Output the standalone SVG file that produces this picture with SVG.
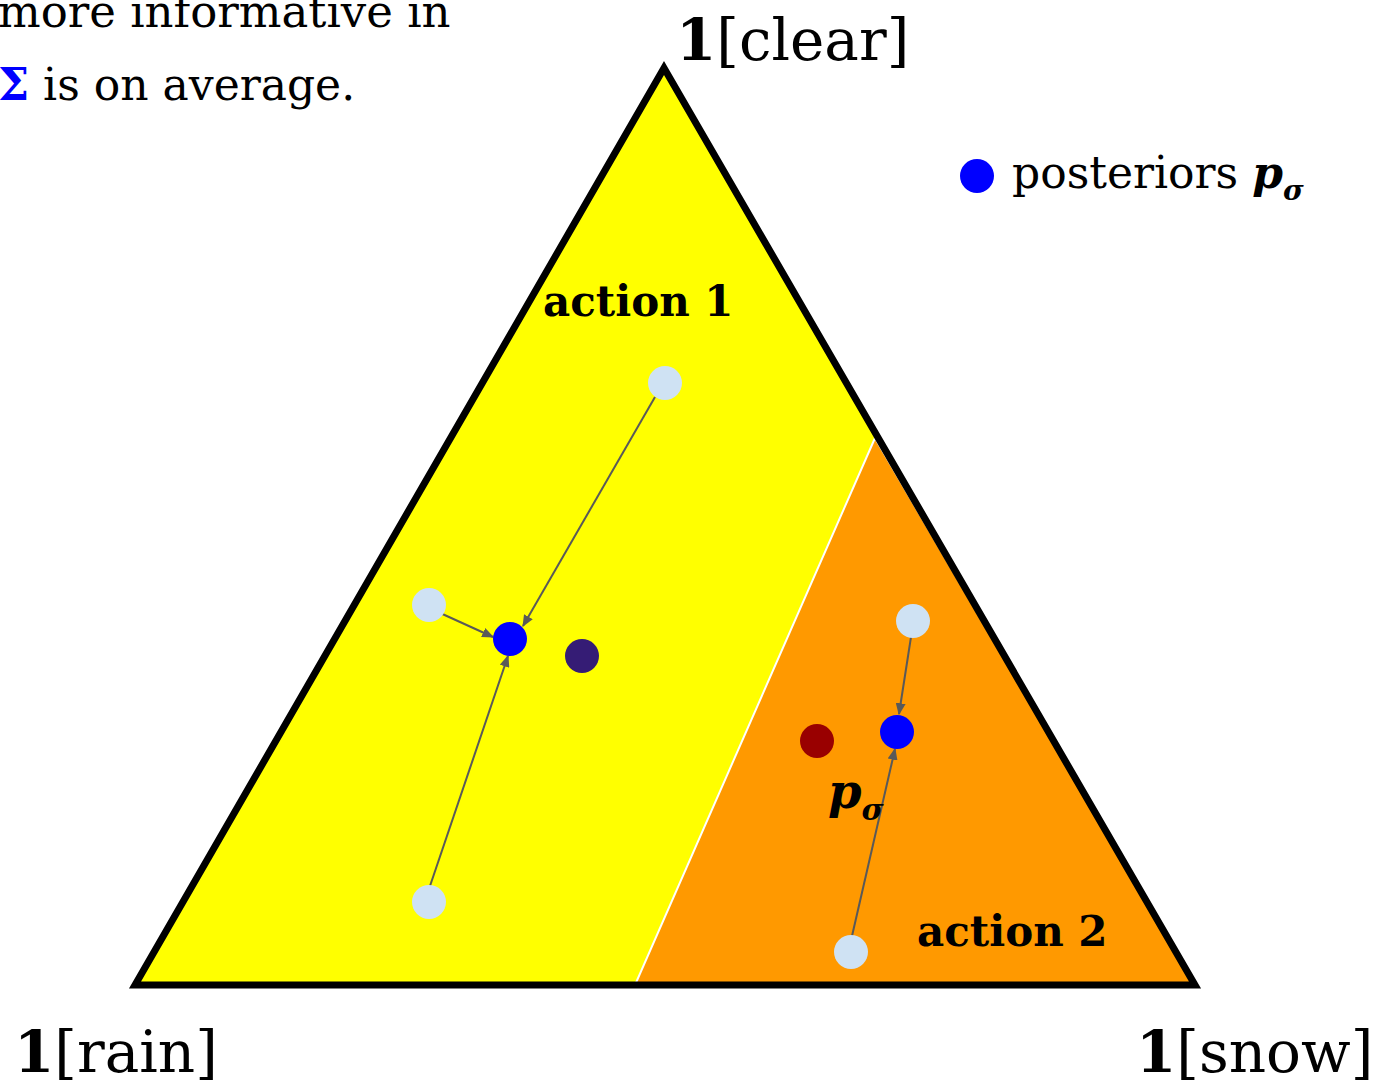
<svg xmlns="http://www.w3.org/2000/svg" width="1384" height="1083" viewBox="0 0 1384 1083">
<defs>
<style>
text{font-family:"DejaVu Serif","Liberation Serif",serif;fill:#000}
.lbl{font-size:58px}
.act{font-size:42px;font-weight:bold}
.light{fill:#cfe2f3}
.blue{fill:#0000ff}
.arr{stroke:#595959;stroke-width:2;fill:none;marker-end:url(#ah)}
</style>
<marker id="ah" viewBox="0 0 10 10" refX="9" refY="5" markerWidth="12" markerHeight="10" orient="auto" markerUnits="userSpaceOnUse" preserveAspectRatio="none">
<path d="M0,0 L10,5 L0,10 z" fill="#595959"/>
</marker>
</defs>
<rect width="1384" height="1083" fill="#fff"/>
<g id="caption">
<text x="-2" y="27" font-size="45">more informative in</text>
<text x="-2" y="100" font-size="44"><tspan fill="#0000ff" font-weight="bold">Σ</tspan> is on average.</text>
</g>
<g id="simplex">
<polygon points="664,68 135,985 1195,985" fill="#ffff00"/>
<polygon points="875,438 635,985 1195,985" fill="#ff9900" stroke="#fff" stroke-width="2"/>
<polygon points="664,68 135,985 1195,985" fill="none" stroke="#000" stroke-width="7" stroke-linejoin="miter"/>
</g>
<g id="label-clear"><text class="lbl" x="676" y="60"><tspan font-weight="bold">1</tspan>[clear]</text></g>
<g id="label-rain"><text class="lbl" x="14" y="1072"><tspan font-weight="bold">1</tspan>[rain]</text></g>
<g id="label-snow"><text class="lbl" x="1136" y="1072"><tspan font-weight="bold">1</tspan>[snow]</text></g>
<g id="action1"><text class="act" x="543" y="316">action 1</text></g>
<g id="action2"><text class="act" x="917" y="946">action 2</text></g>
<g id="legend">
<circle class="blue" cx="977" cy="176" r="17"/>
<text x="1012" y="188" font-size="44">posteriors <tspan font-weight="bold" font-style="italic">p</tspan><tspan font-weight="bold" font-style="italic" font-size="28" dy="12">σ</tspan></text>
</g>
<g id="connectors">
<line class="arr" x1="655" y1="397" x2="523" y2="626"/>
<line class="arr" x1="438" y1="612" x2="493" y2="637"/>
<line class="arr" x1="430" y1="886" x2="508" y2="656"/>
<line class="arr" x1="911" y1="637" x2="899" y2="714"/>
<line class="arr" x1="852" y1="936" x2="895" y2="749"/>
</g>
<g id="p1"><circle class="light" cx="665" cy="383" r="17"/></g>
<g id="p2"><circle class="light" cx="429" cy="605" r="17"/></g>
<g id="p3"><circle class="light" cx="429" cy="902" r="17"/></g>
<g id="p4"><circle class="light" cx="913" cy="621" r="17"/></g>
<g id="p5"><circle class="light" cx="851" cy="952" r="17"/></g>
<g id="post1"><circle class="blue" cx="510" cy="639" r="17"/></g>
<g id="post2"><circle class="blue" cx="897" cy="732" r="17"/></g>
<g id="prior-purple"><circle cx="582" cy="656" r="17" fill="#351c75"/></g>
<g id="prior-red"><circle cx="817" cy="741" r="17" fill="#990000"/></g>
<g id="label-psigma"><text x="828" y="808" font-size="48" font-weight="bold" font-style="italic">p<tspan font-size="30" dy="12">σ</tspan></text></g>
</svg>
